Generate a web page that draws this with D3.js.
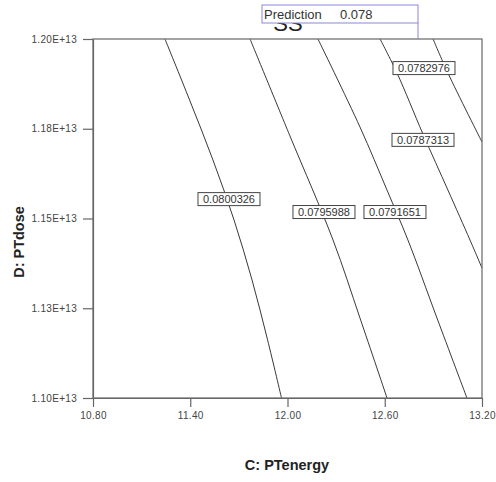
<!DOCTYPE html>
<html>
<head>
<meta charset="utf-8">
<script src="https://cdn.jsdelivr.net/npm/d3@7"></script>
<style>
  body { margin: 0; background: #fff; }
  svg { display: block; font-family: "Liberation Sans", Arial, sans-serif; }
</style>
</head>
<body>
<svg id="drawing_region"></svg>
<script>
// tick values on both axes
const xTicks = [10.8, 11.4, 12.0, 12.6, 13.2];
const yTicks = [1.1e13, 1.125e13, 1.15e13, 1.175e13, 1.2e13];
const yTickLabels = ['1.10E+13', '1.13E+13', '1.15E+13', '1.18E+13', '1.20E+13'];

// contour levels and their lines as [C, D/1e13]
const levels = ['0.0800326', '0.0795988', '0.0791651', '0.0787313', '0.0782976'];
const line0800326 = [[11.244,1.2],[11.396,1.183],[11.54,1.1663],[11.67,1.1496],[11.781,1.1329],[11.877,1.1162],[11.963,1.1]];
const line0795988 = [[11.769,1.2],[12.015,1.173],[12.281,1.144],[12.447,1.1223],[12.614,1.1]];
const line0791651 = [[12.188,1.2],[12.447,1.1755],[12.614,1.1579],[12.743,1.144],[12.922,1.1223],[13.107,1.1]];
const line0787313 = [[12.571,1.2],[12.676,1.1905],[12.836,1.1735],[12.99,1.1579],[13.126,1.144],[13.2,1.1362]];
const line0782976 = [[12.898,1.2],[12.99,1.1905],[13.2,1.1713]];
// label anchor for each level [C, D/1e13]
const labelPos = [[11.639,1.1554],[12.225,1.1518],[12.663,1.1518],[12.836,1.1719],[12.842,1.1919]];

const predictionText = 'Prediction';
const predictionValue = '0.078';
const responseName = 'SS';

const config = {
    width: 496,
    height: 482,
    margin: {top: 39, right: 14, bottom: 84, left: 93}
};

const svg = d3.select('#drawing_region')
    .attr('width', config.width)
    .attr('height', config.height);

const inner_width = config.width - config.margin.left - config.margin.right;
const inner_height = config.height - config.margin.top - config.margin.bottom;

const chart = svg.append('g')
    .attr('transform', `translate(${config.margin.left}, ${config.margin.top})`);

const xscale = d3.scaleLinear()
    .domain([10.8, 13.2])
    .range([0, inner_width]);

const yscale = d3.scaleLinear()
    .domain([1.1e13, 1.2e13])
    .range([inner_height, 0]);

// contour lines
const lines = [line0800326, line0795988, line0791651, line0787313, line0782976];
const lineGen = d3.line()
    .x(d => xscale(d[0]))
    .y(d => yscale(d[1] * 1e13))
    .curve(d3.curveCatmullRom);

chart.selectAll('path.contour')
    .data(lines)
    .enter()
    .append('path')
    .attr('class', 'contour')
    .attr('d', lineGen)
    .attr('fill', 'none')
    .attr('stroke', '#222')
    .attr('stroke-width', 0.9);

// frame
chart.append('rect')
    .attr('width', inner_width)
    .attr('height', inner_height)
    .attr('fill', 'none')
    .attr('stroke', '#666')
    .attr('stroke-width', 1.2);

// axes
const xaxis = d3.axisBottom(xscale)
    .tickValues(xTicks)
    .tickFormat(d3.format('.2f'))
    .tickSize(9)
    .tickSizeOuter(0)
    .tickPadding(5);

const yaxis = d3.axisLeft(yscale)
    .tickValues(yTicks)
    .tickFormat((d, i) => yTickLabels[i])
    .tickSize(10)
    .tickSizeOuter(0)
    .tickPadding(6);

const xg = chart.append('g')
    .attr('transform', `translate(0, ${inner_height})`)
    .call(xaxis);
const yg = chart.append('g').call(yaxis);

[xg, yg].forEach(g => {
    g.select('.domain').attr('stroke', '#666').attr('stroke-width', 1.2);
    g.selectAll('.tick line').attr('stroke', '#666').attr('stroke-width', 1.2);
    g.selectAll('.tick text')
        .attr('fill', '#444')
        .style('font-size', '10px')
        .style('letter-spacing', '0.3px');
});

// contour labels
const lbl = chart.selectAll('g.lbl')
    .data(levels)
    .enter()
    .append('g')
    .attr('class', 'lbl')
    .attr('transform', (d, i) => `translate(${xscale(labelPos[i][0])}, ${yscale(labelPos[i][1] * 1e13)})`);

lbl.append('rect')
    .attr('x', -31)
    .attr('y', -6.5)
    .attr('width', 62)
    .attr('height', 13)
    .attr('fill', '#fff')
    .attr('stroke', '#444')
    .attr('stroke-width', 1);

lbl.append('text')
    .attr('text-anchor', 'middle')
    .attr('dy', '0.36em')
    .attr('fill', '#333')
    .style('font-size', '11px')
    .text(d => d);

// axis titles
svg.append('text')
    .attr('x', 287)
    .attr('y', 470)
    .attr('text-anchor', 'middle')
    .attr('fill', '#222')
    .style('font-size', '14.5px')
    .style('font-weight', 'bold')
    .text('C: PTenergy');

svg.append('text')
    .attr('transform', 'translate(24, 242) rotate(-90)')
    .attr('text-anchor', 'middle')
    .attr('fill', '#222')
    .style('font-size', '14.5px')
    .style('font-weight', 'bold')
    .text('D: PTdose');

// response name partly hidden under the prediction box
svg.append('text')
    .attr('x', 288)
    .attr('y', 31)
    .attr('text-anchor', 'middle')
    .attr('fill', '#222')
    .style('font-size', '22px')
    .text(responseName);

svg.append('rect')
    .attr('x', 262)
    .attr('y', 5)
    .attr('width', 156)
    .attr('height', 18)
    .attr('fill', '#fff')
    .attr('stroke', '#8a86dd')
    .attr('stroke-width', 1);

svg.append('line')
    .attr('x1', 418).attr('x2', 418)
    .attr('y1', 23).attr('y2', 39)
    .attr('stroke', '#8a86dd');

svg.append('text')
    .attr('x', 264)
    .attr('y', 19)
    .attr('fill', '#333')
    .style('font-size', '13px')
    .text(predictionText);

svg.append('text')
    .attr('x', 340)
    .attr('y', 19)
    .attr('fill', '#333')
    .style('font-size', '13px')
    .text(predictionValue);
</script>
</body>
</html>
